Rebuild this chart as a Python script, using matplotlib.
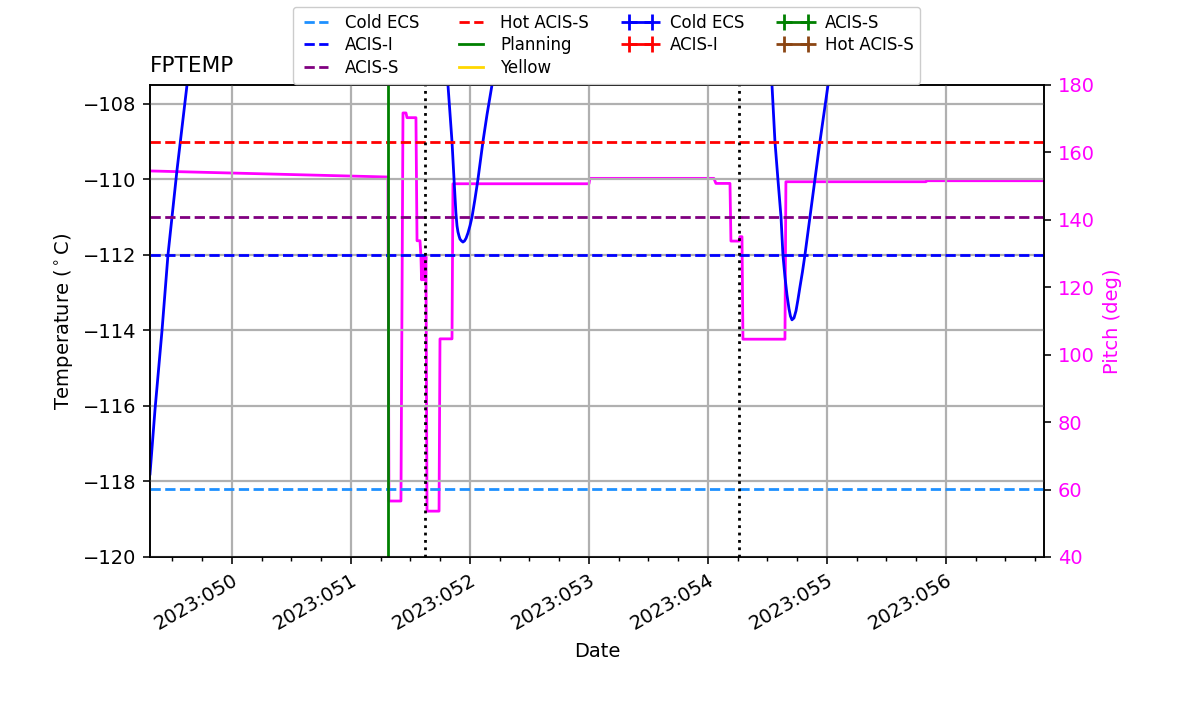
import matplotlib
matplotlib.use("Agg")
import matplotlib.pyplot as plt
from matplotlib.lines import Line2D
from matplotlib.ticker import FixedLocator, MultipleLocator, FuncFormatter

# ---- data (day-of-year 2023) ----
temp_days = [49.311, 49.353, 49.412, 49.462, 49.538, 49.622, 49.700,
             51.782, 51.815, 51.849, 51.866, 51.882, 51.891, 51.899, 51.908, 51.916,
             51.929, 51.941, 51.954, 51.967, 51.983, 52.000, 52.017, 52.042, 52.067,
             52.109, 52.143, 52.185, 52.219,
             54.504, 54.538, 54.563, 54.588, 54.614, 54.630, 54.647, 54.664, 54.681,
             54.693, 54.706, 54.723, 54.740, 54.756, 54.773, 54.794, 54.815, 54.857,
             54.899, 54.941, 55.009, 55.059]
temp_vals = [-117.8, -116.1, -114.0, -112.0, -109.75, -107.5, -105.5,
             -106.0, -107.5, -109.0, -110.0, -110.9, -111.23, -111.39, -111.50, -111.58,
             -111.63, -111.66, -111.63, -111.56, -111.42, -111.23, -111.0, -110.52, -110.0,
             -109.0, -108.29, -107.5, -106.83,
             -105.85, -107.5, -109.0, -110.0, -111.0, -112.0, -112.58, -113.06, -113.43,
             -113.62, -113.72, -113.67, -113.48, -113.19, -112.85, -112.45, -112.0, -111.0,
             -110.0, -109.0, -107.5, -106.33]

pitch_days = [49.311, 51.311, 51.319, 51.420, 51.437, 51.462, 51.471, 51.546,
              51.555, 51.580, 51.588, 51.593, 51.597, 51.605, 51.613, 51.620, 51.630,
              51.639, 51.740, 51.748, 51.849, 51.857, 53.000, 53.008,
              54.050, 54.067, 54.185, 54.193, 54.261, 54.269, 54.286, 54.294,
              54.647, 54.655, 55.832, 55.840, 56.824]
pitch_vals = [154.5, 152.7, 56.6, 56.6, 171.7, 171.7, 170.3, 170.3,
              133.8, 133.8, 129.1, 122.2, 129.1, 122.2, 129.1, 122.2, 129.1,
              53.6, 53.6, 104.7, 104.7, 150.7, 150.7, 152.3,
              152.3, 150.8, 150.8, 133.7, 133.7, 135.0, 135.0, 104.6,
              104.6, 151.3, 151.3, 151.6, 151.6]

limit_names = ["Cold ECS", "ACIS-I", "ACIS-S", "Hot ACIS-S"]
limit_vals = [-118.2, -112.0, -111.0, -109.0]
limit_colors = ["dodgerblue", "blue", "purple", "red"]

planning_day = 51.311
dotted_days = [51.622, 54.261]

tick_days = [50, 51, 52, 53, 54, 55, 56]
tick_labels = ["2023:050", "2023:051", "2023:052", "2023:053",
               "2023:054", "2023:055", "2023:056"]

obs_names = ["Cold ECS", "ACIS-I", "ACIS-S", "Hot ACIS-S"]
obs_colors = ["blue", "red", "green", "saddlebrown"]

# ---- figure ----
fig = plt.figure(figsize=(12, 7.14), dpi=100)
ax = fig.add_axes([0.125, 0.2199, 0.745, 0.6611])
ax2 = ax.twinx()
ax.set_zorder(ax2.get_zorder() + 1)
ax.patch.set_visible(False)

FS = 14
SPW = 1.15

ax.plot(temp_days, temp_vals, color="blue", lw=2)
ax2.plot(pitch_days, pitch_vals, color="magenta", lw=2)

for v, c in zip(limit_vals, limit_colors):
    ax.axhline(v, color=c, ls="--", lw=2)
ax.axvline(planning_day, color="green", lw=2)
for d in dotted_days:
    ax.axvline(d, color="black", ls=":", lw=2)

ax.set_xlim(49.311, 56.824)
ax.set_ylim(-120, -107.5)
ax2.set_ylim(40, 180)

ax.xaxis.set_major_locator(FixedLocator(tick_days))
ax.xaxis.set_major_formatter(FuncFormatter(
    lambda v, p: tick_labels[tick_days.index(int(round(v)))] if int(round(v)) in tick_days else ""))
ax.xaxis.set_minor_locator(MultipleLocator(0.25))
ax.set_yticks([-120, -118, -116, -114, -112, -110, -108])
ax.grid(True, color="#b0b0b0", lw=1.6)
ax.tick_params(which="major", labelsize=FS, length=5, width=SPW, pad=5)
ax.tick_params(which="minor", length=2.9, width=SPW * 0.9)
ax2.tick_params(which="major", labelsize=FS, labelcolor="magenta", length=5, width=SPW, pad=5)
plt.setp(ax.get_xticklabels(), rotation=30, ha="right", va="top",
         rotation_mode="anchor")
for a in (ax, ax2):
    for s in a.spines.values():
        s.set_linewidth(SPW)
ax2.set_yticks([40, 60, 80, 100, 120, 140, 160, 180])

ax.set_xlabel("Date", fontsize=FS, labelpad=5.8)
ax.set_ylabel("Temperature ($^\\circ$C)", fontsize=FS, labelpad=5.8)
ax2.set_ylabel("Pitch (deg)", fontsize=FS, color="magenta", labelpad=5.8)
ax.set_title("FPTEMP", loc="left", fontsize=15.6, pad=9)

handles = []
for n, v, c in zip(limit_names, limit_vals, limit_colors):
    handles.append(Line2D([], [], color=c, ls="--", lw=2, label=n))
handles.append(Line2D([], [], color="green", lw=2, label="Planning"))
handles.append(Line2D([], [], color="gold", lw=2, label="Yellow"))
for n, c in zip(obs_names, obs_colors):
    handles.append(Line2D([], [], color=c, lw=2, marker="+", markersize=12,
                          markeredgewidth=2, label=n))
fig.legend(handles=handles, ncol=4, loc="upper center",
           bbox_to_anchor=(0.5054, 1.002), fontsize=12, numpoints=2,
           labelspacing=0.28, handlelength=2.0, handletextpad=0.75,
           columnspacing=2.1, fancybox=True, framealpha=1.0)

fig.savefig("out.png", dpi=100)
